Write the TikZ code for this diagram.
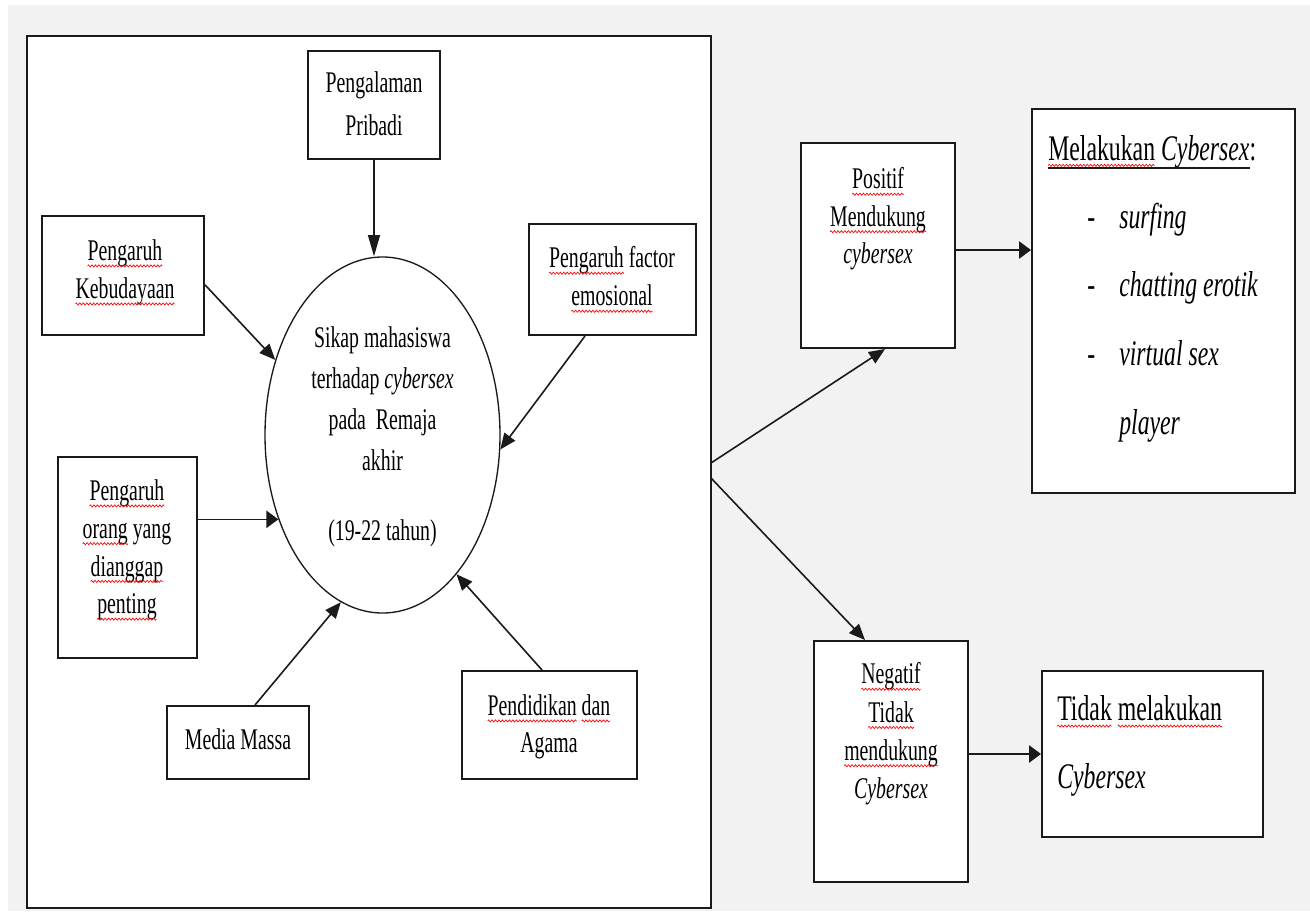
\documentclass[tikz,border=0pt]{standalone}
\usepackage{fontspec}
\setmainfont{Liberation Serif}[FakeStretch=0.66]
\usetikzlibrary{arrows.meta,shapes.geometric,decorations.pathmorphing}
\definecolor{bg}{HTML}{F2F2F2}
\definecolor{ln}{HTML}{1A1A1A}
\newcommand\spq[1]{\tikz[baseline=(spw.base)]{\node[inner sep=0pt,outer sep=0pt,anchor=base] (spw) {#1};\draw[overlay,red,line width=0.5pt,decorate,decoration={zigzag,amplitude=0.8pt,segment length=2.6pt}] ([yshift=-4pt]spw.base west) -- ([yshift=-4pt]spw.base east);}}
\begin{document}
\begin{tikzpicture}[x=0.75pt,y=-0.75pt,
  box/.style={rectangle,draw=ln,line width=1.5pt,fill=white,inner sep=0pt},
  arr/.style={draw=ln,line width=1.2pt},
  tipV/.style={-{Triangle[length=16pt,width=9pt]}},
  tipD/.style={-{Triangle[length=12pt,width=10pt]}},
  tipH/.style={-{Triangle[length=9pt,width=13pt]}},
  txt/.style={align=center,inner sep=0pt,anchor=north},
  ltxt/.style={align=left,inner sep=0pt}]
\useasboundingbox (0,0) rectangle (1310,911);
\fill[white] (0,0) rectangle (1310,911);
\fill[bg] (8,5) rectangle (1310,911);
% main frame
\draw[draw=ln,line width=1.5pt,fill=white] (27,36) rectangle (711,908);
% boxes
\node[box,minimum width=99pt,minimum height=81pt] (peng) at (374,105) {};
\node[box,minimum width=121.5pt,minimum height=89.25pt] (kebud) at (123,275.5) {};
\node[box,minimum width=104.25pt,minimum height=150.75pt] (orang) at (127.5,557.5) {};
\node[box,minimum width=106.5pt,minimum height=54.75pt] (media) at (238,742.5) {};
\node[box,minimum width=131.25pt,minimum height=81pt] (pend) at (549.5,725) {};
\node[box,minimum width=125.25pt,minimum height=83.25pt] (emo) at (612.5,279.5) {};
\node[ellipse,draw=ln,line width=1pt,fill=white,minimum width=176.25pt,minimum height=267pt,inner sep=0pt] (circ) at (382.5,435) {};
\node[box,minimum width=115.5pt,minimum height=153.75pt] (pos) at (878,245.5) {};
\node[box,minimum width=197.25pt,minimum height=288pt] (mel) at (1163.5,301) {};
\node[box,minimum width=115.5pt,minimum height=180.75pt] (neg) at (891,761.5) {};
\node[box,minimum width=165.75pt,minimum height=124.5pt] (tidak) at (1152.5,754) {};
% texts
\node[txt,font=\fontsize{22.5}{32.25}\selectfont] (tpeng) at (374,71.5) {Pengalaman\\Pribadi};
\node[txt,font=\fontsize{22.5}{28.5}\selectfont] (tkebud) at (125,239.5) {\spq{Pengaruh}\\\spq{Kebudayaan}};
\node[txt,font=\fontsize{22.5}{28.3}\selectfont] (torang) at (127,479.5) {\spq{Pengaruh}\\\spq{orang} yang\\\spq{dianggap}\\\spq{penting}};
\node[txt,font=\fontsize{22.5}{28.5}\selectfont] (tmedia) at (238,728.5) {Media Massa};
\node[txt,font=\fontsize{22.5}{27.75}\selectfont] (tpend) at (549,694.5) {\spq{Pendidikan} \spq{dan}\\Agama};
\node[txt,font=\fontsize{22.5}{28.5}\selectfont] (temo) at (612,246.5) {\spq{Pengaruh} factor\\\spq{emosional}};
\node[txt,font=\fontsize{22.5}{30.75}\selectfont] (tcirc) at (382.5,326.5) {Sikap mahasiswa\\terhadap \textit{cybersex}\\pada\ \ Remaja\\akhir\\[21.75pt](19-22 tahun)};
\node[txt,font=\fontsize{22.5}{28.1}\selectfont] (tpos) at (878,167.5) {\spq{Positif}\\\spq{Mendukung}\\\textit{cybersex}};
\node[txt,font=\fontsize{22.5}{28.7}\selectfont] (tneg) at (891,662.5) {\spq{Negatif}\\\spq{Tidak}\\\spq{mendukung}\\\textit{Cybersex}};
\node[ltxt,anchor=base west,font=\fontsize{27}{32}\selectfont] (mh) at (1048,160) {\spq{Melakukan} \textit{Cybersex}\rlap{:}};
\draw[ln,line width=1.4pt] ([yshift=-6pt]mh.base west) -- ([yshift=-6pt]mh.base east);
\node[ltxt,anchor=north west,font=\fontsize{27}{51.5}\selectfont] (mitems) at (1087,202.5) {\makebox[24pt][l]{-}\textit{surfing}\\\makebox[24pt][l]{-}\textit{chatting erotik}\\\makebox[24pt][l]{-}\textit{virtual sex}\\\makebox[24pt][l]{}\textit{player}};
\node[ltxt,anchor=north west,font=\fontsize{27}{51}\selectfont] (ttidak) at (1057,695.5) {\spq{Tidak} \spq{melakukan}\\\textit{Cybersex}};
% connectors
\draw[arr,tipV] (peng.south) -- (peng.south |- circ.north);
\draw[arr,tipD] ([yshift=-7pt]kebud.east) -- (circ.145);
\draw[arr,tipH] (orang.east |- circ.219) -- (circ.219);
\draw[arr,tipD] ([xshift=12.75pt]media.north) -- (circ.256);
\draw[arr,tipD] ([xshift=-5.6pt]pend.north) -- (circ.298);
\draw[arr,tipD] ([xshift=-20.6pt]emo.south) -- (circ.353);
\coordinate (o1) at (711,463);
\coordinate (o2) at (711,478);
\draw[arr,tipD] (o1) -- ([xshift=5.25pt]pos.south);
\draw[arr,tipD] (o2) -- ([xshift=-19.5pt]neg.north);
\coordinate (pe) at ([yshift=-3.4pt]pos.east);
\draw[arr,tipH] (pe) -- (pe -| mel.west);
\draw[arr,tipH] (neg.east |- tidak.west) -- (tidak.west);
\end{tikzpicture}
\end{document}
